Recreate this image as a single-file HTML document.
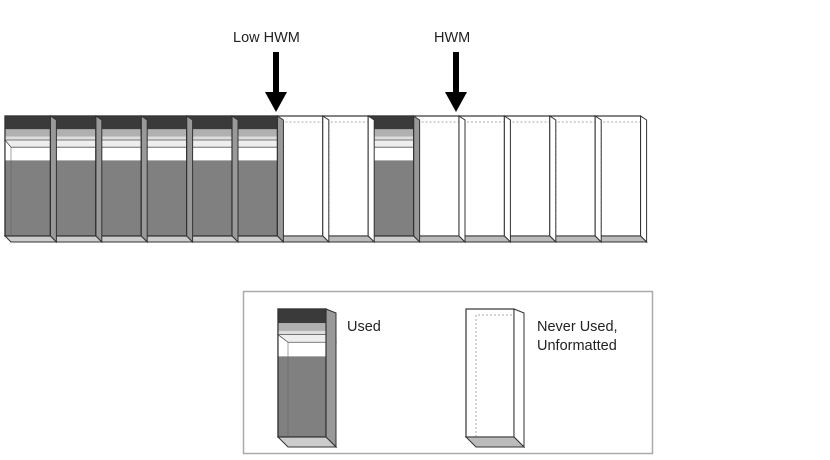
<!DOCTYPE html>
<html><head><meta charset="utf-8"><style>
html,body{margin:0;padding:0;background:#fff;width:830px;height:460px;overflow:hidden}
text{font-family:"Liberation Sans",sans-serif;fill:#222}
</style></head><body>
<svg id="s" width="830" height="460" xmlns="http://www.w3.org/2000/svg">
<text x="233" y="42" font-size="14.5">Low HWM</text>
<text x="434" y="42" font-size="14.5">HWM</text>
<rect x="273" y="52" width="6" height="42" fill="#000"/>
<polygon points="265,92 287,92 276,112" fill="#000"/>
<rect x="453" y="52" width="6" height="42" fill="#000"/>
<polygon points="445,92 467,92 456,112" fill="#000"/>
<rect x="243.5" y="291.5" width="409" height="162" fill="none" stroke="#aaa" stroke-width="1.5"/>
<text x="347" y="331" font-size="14.5">Used</text>
<text x="537" y="331" font-size="14.5">Never Used,</text>
<text x="537" y="350" font-size="14.5">Unformatted</text>
<g id="g"></g>
</svg>
<script>
var g=document.getElementById('g'),h='';
function used(x,y,w,H,d){
 var b=y+H;
 h+='<rect x="'+x+'" y="'+y+'" width="'+w+'" height="'+H+'" fill="#808080" stroke="#333" stroke-width="1.2"/>';
 h+='<rect x="'+x+'" y="'+y+'" width="'+w+'" height="'+(H*0.11)+'" fill="#3a3a3a"/>';
 h+='<rect x="'+x+'" y="'+(y+H*0.11)+'" width="'+w+'" height="'+(H*0.06)+'" fill="#b0b0b0"/>';
 h+='<rect x="'+x+'" y="'+(y+H*0.17)+'" width="'+w+'" height="'+(H*0.03)+'" fill="#ddd"/>';
 h+='<rect x="'+x+'" y="'+(y+H*0.2)+'" width="'+w+'" height="'+(H*0.17)+'" fill="#fff"/>';
 h+='<polygon points="'+x+','+(y+H*0.2)+' '+(x+w)+','+(y+H*0.2)+' '+(x+w+d)+','+(y+H*0.26)+' '+(x+d)+','+(y+H*0.26)+'" fill="#eee" stroke="#555" stroke-width="0.8"/>';
 h+='<line x1="'+(x+d)+'" y1="'+(y+H*0.26)+'" x2="'+(x+d)+'" y2="'+b+'" stroke="#666" stroke-width="0.6"/>';
 h+='<polygon points="'+(x+w)+','+y+' '+(x+w+d)+','+(y+4)+' '+(x+w+d)+','+(b+d)+' '+(x+w)+','+b+'" fill="#999" stroke="#333" stroke-width="1"/>';
 h+='<polygon points="'+x+','+b+' '+(x+w)+','+b+' '+(x+w+d)+','+(b+d)+' '+(x+d)+','+(b+d)+'" fill="#ccc" stroke="#333" stroke-width="1"/>';
 h+='<rect x="'+x+'" y="'+y+'" width="'+w+'" height="'+H+'" fill="none" stroke="#333" stroke-width="1.2"/>';
}
function empty(x,y,w,H,d){
 var b=y+H;
 h+='<rect x="'+x+'" y="'+y+'" width="'+w+'" height="'+H+'" fill="#fff" stroke="#333" stroke-width="1.2"/>';
 h+='<polyline points="'+(x+d)+','+b+' '+(x+d)+','+(y+6)+' '+(x+w+d)+','+(y+6)+'" fill="none" stroke="#aaa" stroke-dasharray="2,2"/>';
 h+='<polygon points="'+(x+w)+','+y+' '+(x+w+d)+','+(y+4)+' '+(x+w+d)+','+(b+d)+' '+(x+w)+','+b+'" fill="#fff" stroke="#333" stroke-width="1"/>';
 h+='<polygon points="'+x+','+b+' '+(x+w)+','+b+' '+(x+w+d)+','+(b+d)+' '+(x+d)+','+(b+d)+'" fill="#bbb" stroke="#333" stroke-width="1"/>';
}
var types=[1,1,1,1,1,1,0,0,1,0,0,0,0,0];
for(var i=types.length-1;i>=0;i--){
 var x=5+i*45.4;
 if(types[i])used(x,116,45.4,120,6);else empty(x,116,45.4,120,6);
}
used(278,309,48,128,10);
empty(466,309,48,128,10);
g.innerHTML=h;
</script>
</body></html>
